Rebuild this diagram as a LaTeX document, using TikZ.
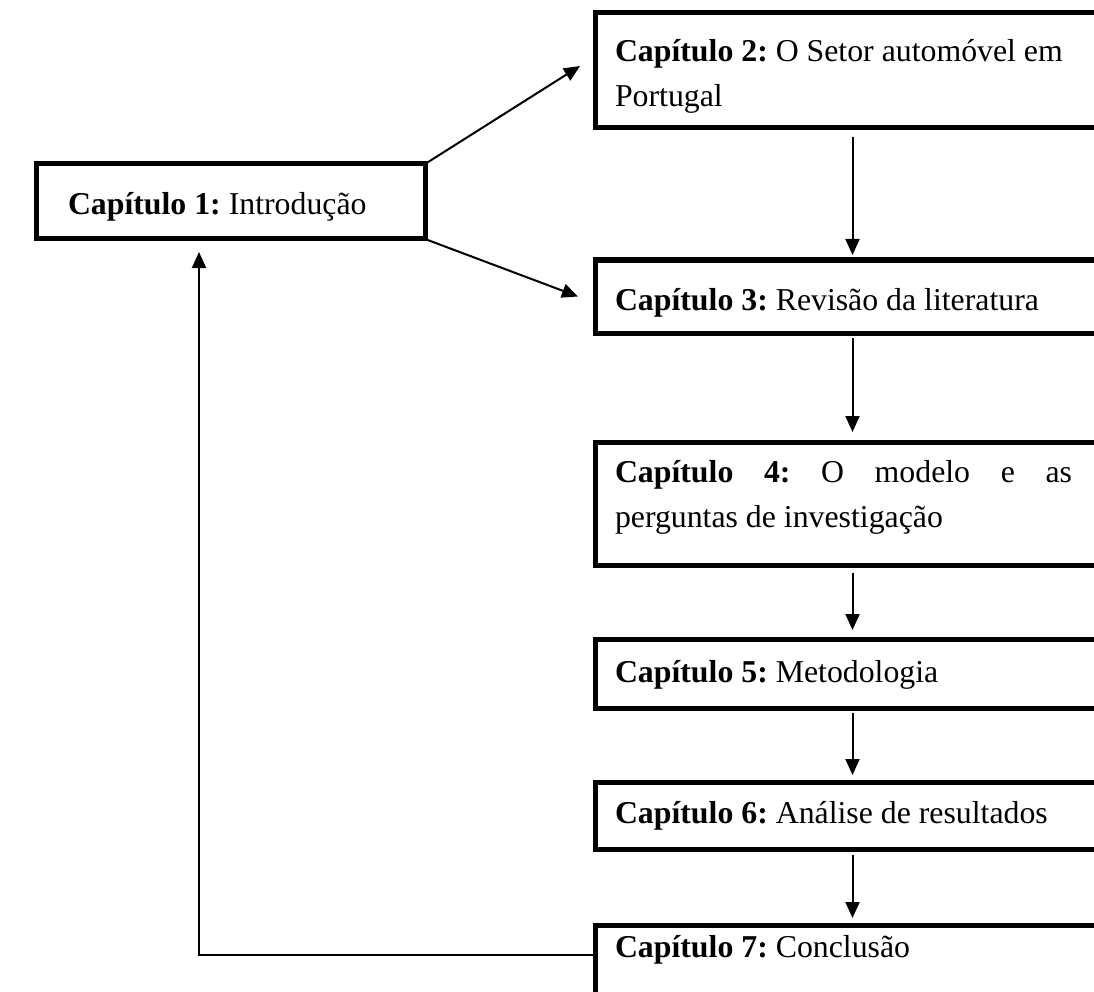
\documentclass[tikz,border=0pt]{standalone}
\usepackage{fontspec}
\setmainfont{Liberation Serif}
\usetikzlibrary{arrows.meta}
\frenchspacing
\begin{document}
\begin{tikzpicture}[x=1pt,y=-1pt,
  chbox/.style={draw, line width=5pt, rectangle, inner sep=0pt, outer sep=0pt, anchor=north west, minimum width=515pt},
  chtext/.style={inner sep=0pt, outer sep=0pt, anchor=base west, font=\fontsize{31.8}{45}\selectfont},
  arr/.style={line width=2pt, -{Triangle[length=16pt,width=14pt]}},
  line join=miter]
\useasboundingbox (0,0) rectangle (1094,992);
\clip (0,0) rectangle (1094,992);
% boxes
\node[chbox, minimum width=389pt, minimum height=75pt] (b1) at (36,164) {};
\node[chbox, minimum height=115pt] (b2) at (595,13) {};
\node[chbox, minimum height=73pt] (b3) at (595,260) {};
\node[chbox, minimum height=123pt] (b4) at (595,442) {};
\node[chbox, minimum height=69pt] (b5) at (595,639) {};
\node[chbox, minimum height=67pt] (b6) at (595,782) {};
\node[chbox, minimum height=80pt] (b7) at (595,925) {};
% texts
\node[chtext] (t1) at (68,215) {\textbf{Capítulo 1:} Introdução};
\node[chtext] (t2) at (615,62) {\parbox[t]{457pt}{\frenchspacing\textbf{Capítulo 2:} O Setor automóvel em\\Portugal}};
\node[chtext] (t3) at (615,310) {\textbf{Capítulo 3:} Revisão da literatura};
\node[chtext] (t4) at (615,482) {\parbox[t]{457pt}{\frenchspacing\textbf{Capítulo 4:} O modelo e as\linebreak perguntas de investigação}};
\node[chtext] (t5) at (615,682) {\textbf{Capítulo 5:} Metodologia};
\node[chtext] (t6) at (615,823) {\textbf{Capítulo 6:} Análise de resultados};
\node[chtext] (t7) at (615,957) {\textbf{Capítulo 7:} Conclusão};
% connectors
\draw[arr] (b1.north east) -- ([xshift=-15pt,yshift=4.5pt]b2.west);
\draw[arr] (b1.south east) -- ([xshift=-17pt]b3.west);
\draw[arr, shorten <=9pt, shorten >=5pt] (b2.south) -- (b3.north);
\draw[arr, shorten <=5pt, shorten >=10pt] (b3.south) -- (b4.north);
\draw[arr, shorten <=8pt, shorten >=9pt] (b4.south) -- (b5.north);
\draw[arr, shorten <=5pt, shorten >=7pt] (b5.south) -- (b6.north);
\draw[arr, shorten <=6pt, shorten >=7pt] (b6.south) -- (b7.north);
\draw[arr] ([yshift=10pt]b7.west) -| ([xshift=-31.5pt,yshift=-13pt]b1.south);
\end{tikzpicture}
\end{document}
